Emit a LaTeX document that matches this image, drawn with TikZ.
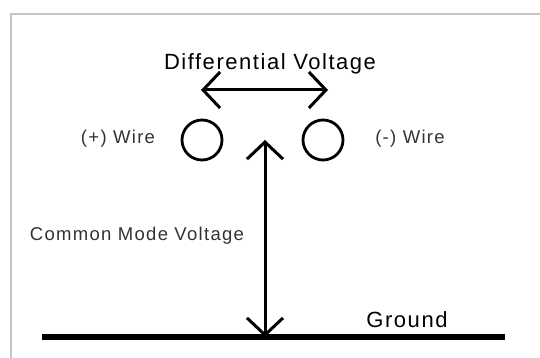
\documentclass[tikz,border=0pt]{standalone}
\usepackage{fontspec}
\setmainfont{Liberation Sans}[LetterSpace=7]
\usetikzlibrary{arrows.meta,positioning}

\begin{document}
\begin{tikzpicture}[x=1pt,y=1pt,<->,>={Straight Barb[length=17pt,width=36pt]},
                    line width=3pt,node distance=121pt]
  \tikzstyle{wire}=[circle,draw=black,line width=2.8pt,minimum size=40pt,inner sep=0pt]
  \tikzstyle{biglabel}=[font=\fontsize{22}{24}\selectfont,text=black]
  \tikzstyle{smalllabel}=[font=\fontsize{18.5}{20}\selectfont,text=black!80]

  \useasboundingbox (0,0) rectangle (540,358);
  % frame
  \draw[-,gray!45,line width=2pt] (11,0) -- (11,344) -- (540,344);

  \node[wire] (P)      at (202,218)       {};
  \node[wire] (M)      [right of=P]       {};

  \node[biglabel] (diff)   at (270,294)   {Differential Voltage};
  \node[smalllabel] (plab) at (118,219)   {(+) Wire};
  \node[smalllabel] (mlab) at (410,219)   {(-) Wire};
  \node[smalllabel] (cm)   at (137,122)   {Common Mode Voltage};
  \node[biglabel] (gnd)    at (407,38)    {Ground};

  \coordinate (gl) at (42,21);
  \coordinate (gr) at (505,21);
  \coordinate (gm) at (265,21);
  \coordinate (top) at (265,218);
  \coordinate (dl) at (201,268);
  \coordinate (dr) at (328,268);

  \draw[-,line width=6pt] (gl) -- (gr);
  \draw (dl) -- (dr);
  \draw (gm) -- (top);
\end{tikzpicture}
\end{document}
